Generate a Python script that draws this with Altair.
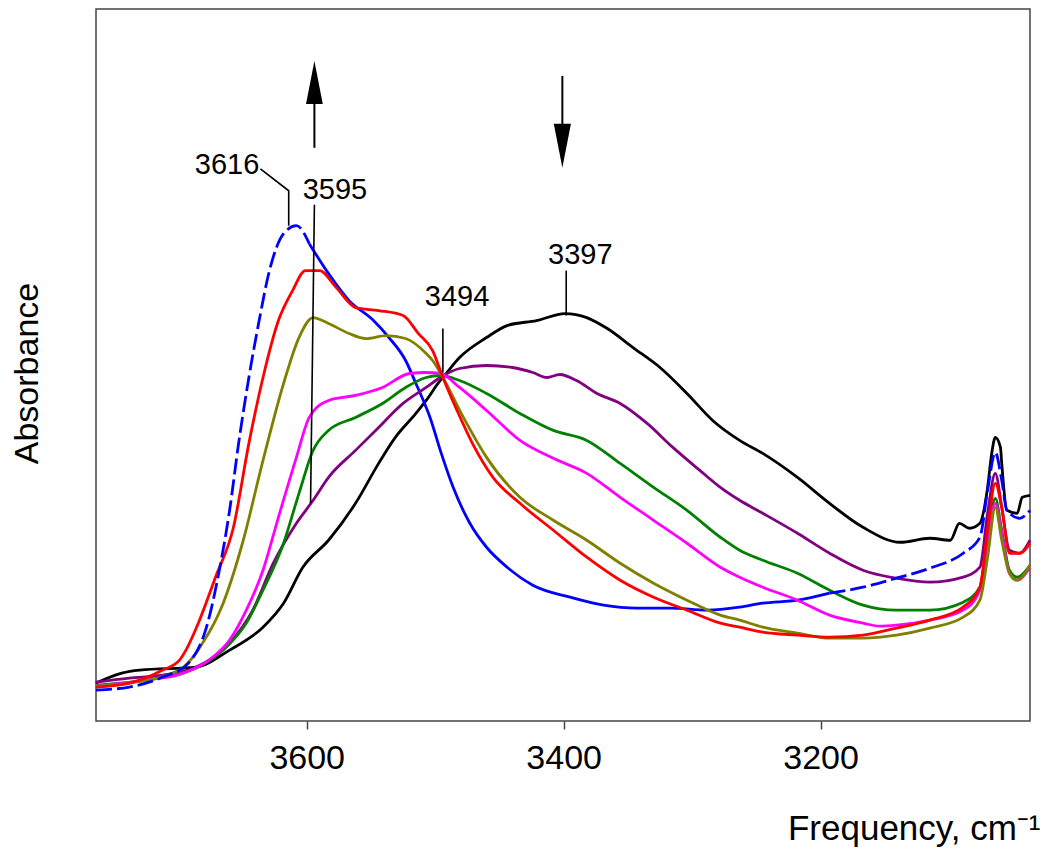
import altair as alt
import pandas as pd

FONT = "Liberation Sans, Arial, Helvetica, sans-serif"

# ---------------- spectra (frequency cm-1, absorbance a.u.) ----------------
black_f = [3764, 3744, 3730, 3686, 3660, 3634, 3618, 3603, 3583, 3562, 3544, 3531, 3515, 3507, 3496,
           3494, 3481, 3460, 3444, 3421, 3399, 3382, 3366, 3346, 3325, 3304, 3284, 3263, 3245, 3218,
           3193, 3167, 3138, 3115, 3099, 3092, 3084, 3076, 3070, 3067, 3064, 3060, 3059, 3055, 3047,
           3043, 3037]
black_a = [0.038, 0.048, 0.051, 0.054, 0.071, 0.094, 0.118, 0.154, 0.181, 0.218, 0.258, 0.284, 0.308,
           0.321, 0.341, 0.344, 0.364, 0.384, 0.396, 0.401, 0.408, 0.404, 0.393, 0.374, 0.354, 0.328,
           0.301, 0.281, 0.268, 0.244, 0.218, 0.194, 0.179, 0.183, 0.181, 0.198, 0.193, 0.198, 0.234,
           0.266, 0.284, 0.274, 0.258, 0.211, 0.208, 0.224, 0.226]

blue_f = [3764, 3738, 3712, 3692, 3678, 3668, 3660, 3653, 3645, 3637, 3629, 3618, 3608, 3598, 3583,
          3567, 3548, 3536, 3523, 3515, 3507, 3504, 3496, 3486, 3473, 3460, 3444, 3424, 3395, 3369,
          3343, 3317, 3288, 3263, 3245, 3218, 3193, 3167, 3141, 3115, 3089, 3076, 3070, 3064, 3059,
          3055, 3045, 3037]
blue_a = [0.031, 0.034, 0.044, 0.058, 0.094, 0.151, 0.211, 0.278, 0.344, 0.401, 0.451, 0.488, 0.496,
          0.478, 0.448, 0.421, 0.401, 0.384, 0.361, 0.338, 0.314, 0.304, 0.271, 0.234, 0.198, 0.174,
          0.154, 0.136, 0.124, 0.116, 0.113, 0.113, 0.111, 0.114, 0.118, 0.121, 0.128, 0.134, 0.143,
          0.153, 0.168, 0.184, 0.231, 0.269, 0.241, 0.211, 0.203, 0.211]

purple_f = [3764, 3738, 3712, 3686, 3660, 3642, 3626, 3608, 3595, 3583, 3562, 3544, 3525, 3507, 3496,
            3481, 3460, 3440, 3424, 3413, 3403, 3390, 3374, 3356, 3335, 3315, 3294, 3278, 3263, 3245,
            3218, 3193, 3167, 3141, 3115, 3089, 3076, 3070, 3064, 3059, 3053, 3045, 3037]
purple_a = [0.039, 0.043, 0.046, 0.054, 0.078, 0.111, 0.158, 0.198, 0.221, 0.244, 0.271, 0.294, 0.318,
            0.334, 0.344, 0.353, 0.356, 0.354, 0.349, 0.344, 0.347, 0.341, 0.328, 0.318, 0.298, 0.274,
            0.251, 0.234, 0.221, 0.208, 0.188, 0.168, 0.151, 0.143, 0.139, 0.144, 0.154, 0.208, 0.248,
            0.214, 0.171, 0.168, 0.181]

green_f = [3764, 3712, 3686, 3665, 3647, 3634, 3618, 3606, 3595, 3583, 3562, 3541, 3523, 3507, 3496,
           3481, 3460, 3434, 3408, 3382, 3356, 3330, 3304, 3278, 3263, 3245, 3218, 3193, 3167, 3141,
           3115, 3089, 3076, 3070, 3064, 3059, 3053, 3047, 3037]
green_a = [0.036, 0.044, 0.053, 0.071, 0.098, 0.131, 0.178, 0.228, 0.271, 0.291, 0.304, 0.318, 0.334,
           0.344, 0.346, 0.341, 0.328, 0.308, 0.291, 0.281, 0.258, 0.234, 0.211, 0.184, 0.171, 0.161,
           0.148, 0.131, 0.116, 0.111, 0.111, 0.119, 0.134, 0.184, 0.223, 0.191, 0.151, 0.144, 0.156]

magenta_f = [3764, 3725, 3696, 3676, 3660, 3647, 3634, 3622, 3608, 3598, 3583, 3562, 3541, 3520, 3507,
             3496, 3481, 3460, 3434, 3408, 3382, 3356, 3330, 3304, 3278, 3263, 3245, 3218, 3193, 3167,
             3154, 3141, 3115, 3089, 3076, 3070, 3064, 3059, 3053, 3047, 3037]
magenta_a = [0.035, 0.041, 0.048, 0.061, 0.081, 0.111, 0.151, 0.204, 0.264, 0.304, 0.321, 0.326, 0.334,
             0.348, 0.349, 0.348, 0.334, 0.311, 0.281, 0.263, 0.248, 0.224, 0.201, 0.178, 0.154, 0.144,
             0.134, 0.121, 0.106, 0.098, 0.095, 0.096, 0.101, 0.111, 0.131, 0.181, 0.218, 0.188, 0.148,
             0.141, 0.154]

olive_f = [3764, 3738, 3699, 3681, 3665, 3650, 3634, 3618, 3606, 3595, 3583, 3567, 3554, 3538, 3523,
           3507, 3502, 3494, 3478, 3460, 3434, 3408, 3382, 3356, 3330, 3304, 3278, 3263, 3245, 3218,
           3193, 3167, 3141, 3115, 3089, 3076, 3070, 3064, 3059, 3053, 3047, 3037]
olive_a = [0.035, 0.038, 0.051, 0.078, 0.118, 0.178, 0.261, 0.338, 0.384, 0.404, 0.398, 0.388, 0.383,
           0.386, 0.383, 0.368, 0.361, 0.344, 0.304, 0.264, 0.224, 0.201, 0.181, 0.158, 0.138, 0.121,
           0.106, 0.101, 0.094, 0.088, 0.083, 0.083, 0.086, 0.093, 0.104, 0.121, 0.164, 0.214, 0.181,
           0.148, 0.141, 0.156]

red_f = [3764, 3738, 3712, 3699, 3694, 3686, 3671, 3657, 3645, 3634, 3622, 3611, 3601, 3590, 3577,
         3562, 3544, 3525, 3513, 3502, 3494, 3483, 3471, 3455, 3434, 3408, 3382, 3356, 3330, 3304,
         3278, 3263, 3245, 3218, 3193, 3167, 3141, 3115, 3089, 3076, 3070, 3064, 3059, 3053, 3045,
         3037]
red_a = [0.034, 0.038, 0.051, 0.061, 0.071, 0.093, 0.144, 0.194, 0.278, 0.344, 0.401, 0.431, 0.451,
         0.451, 0.434, 0.414, 0.411, 0.406, 0.388, 0.371, 0.344, 0.311, 0.278, 0.244, 0.218, 0.191,
         0.164, 0.141, 0.124, 0.111, 0.098, 0.094, 0.089, 0.086, 0.084, 0.086, 0.093, 0.101, 0.114,
         0.134, 0.191, 0.238, 0.214, 0.168, 0.168, 0.178]

series_names = ["black", "blue", "purple", "green", "magenta", "olive", "red"]
series_colors = ["#000000", "#0000ff", "#800080", "#008000", "#ff00ff", "#808000", "#ff0000"]

# blue trace drawn dashed outside this frequency window
blue_solid_hi = 3598
blue_solid_lo = 3193

# ---------------- annotations ----------------
peak_labels = ["3616", "3595", "3494", "3397"]
peak_label_f = [3662, 3578, 3483, 3387]
peak_label_a = [0.548, 0.523, 0.416, 0.458]

leader_id = ["3616", "3616", "3616", "3595", "3595", "3494", "3494", "3397", "3397"]
leader_f = [3636, 3614, 3614, 3594, 3597, 3494, 3494, 3398, 3398]
leader_a = [0.553, 0.531, 0.496, 0.517, 0.218, 0.393, 0.349, 0.451, 0.406]

arrow_dir = ["up", "down"]
arrow_f = [3594, 3401]
arrow_tail = [0.574, 0.646]
arrow_neck = [0.630, 0.590]
arrow_head_center = [0.6395, 0.576]

# ---------------- build tables ----------------
curves = {
    "black": (black_f, black_a), "blue": (blue_f, blue_a), "purple": (purple_f, purple_a),
    "green": (green_f, green_a), "magenta": (magenta_f, magenta_a), "olive": (olive_f, olive_a),
    "red": (red_f, red_a),
}
rows_solid, rows_dash = [], []
for name in series_names:
    fs, as_ = curves[name]
    for f, a in zip(fs, as_):
        if name == "blue":
            if f >= blue_solid_hi:
                rows_dash.append({"series": name, "seg": "blue_left", "f": f, "A": a})
            if f <= blue_solid_lo:
                rows_dash.append({"series": name, "seg": "blue_right", "f": f, "A": a})
            if blue_solid_lo <= f <= blue_solid_hi:
                rows_solid.append({"series": name, "seg": "blue_mid", "f": f, "A": a})
        else:
            rows_solid.append({"series": name, "seg": name, "f": f, "A": a})
df_solid = pd.DataFrame(rows_solid)
df_dash = pd.DataFrame(rows_dash)

df_labels = pd.DataFrame({"label": peak_labels, "f": peak_label_f, "A": peak_label_a})
df_leaders = pd.DataFrame({"id": leader_id, "f": leader_f, "A": leader_a,
                           "k": list(range(len(leader_id)))})
df_arrows = pd.DataFrame({"dir": arrow_dir, "f": arrow_f, "A": arrow_tail, "A2": arrow_neck,
                          "Ah": arrow_head_center})

# ---------------- encodings ----------------
xs = alt.Scale(domain=[3037, 3764], reverse=True, nice=False, zero=False)
ys = alt.Scale(domain=[0.0, 0.713], nice=False, zero=False)
xaxis = alt.Axis(values=[3600, 3400, 3200], format="d", title="Frequency, cm\u207b\u00b9", grid=False,
                 domain=False, ticks=True, tickSize=8, tickWidth=1.5, tickColor="#444444",
                 labelFont=FONT, labelFontSize=34, labelColor="#000000", labelPadding=12,
                 titleFont=FONT, titleFontSize=35, titleFontWeight="normal", titleColor="#000000",
                 titleX=944, titleY=118, titleAlign="right", titleBaseline="alphabetic")
yaxis = alt.Axis(title="Absorbance", labels=False, ticks=False, domain=False, grid=False,
                 titleFont=FONT, titleFontSize=34, titleFontWeight="normal", titleColor="#000000",
                 titleAngle=270, titleX=-59, titleY=364, titleAlign="center",
                 titleBaseline="alphabetic")
X = alt.X("f:Q", scale=xs, axis=xaxis)
Y = alt.Y("A:Q", scale=ys, axis=yaxis)
color = alt.Color("series:N", scale=alt.Scale(domain=series_names, range=series_colors), legend=None)

solid = alt.Chart(df_solid).mark_line(strokeWidth=2.8, strokeJoin="round",
                                      interpolate="monotone").encode(
    x=X, y=Y, color=color, detail="seg:N")
dashed = alt.Chart(df_dash).mark_line(strokeWidth=2.8, strokeDash=[16, 5],
                                      interpolate="monotone").encode(
    x=X, y=Y, color=color, detail="seg:N")

leaders = alt.Chart(df_leaders).mark_line(color="#000000", strokeWidth=1.6).encode(
    x=X, y=Y, detail="id:N", order="k:Q")
labels = alt.Chart(df_labels).mark_text(font=FONT, fontSize=29, align="center",
                                         baseline="alphabetic", color="#000000").encode(
    x=X, y=Y, text="label:N")

shafts = alt.Chart(df_arrows).mark_rule(color="#000000", strokeWidth=2).encode(
    x=X, y=Y, y2="A2:Q")
head_up = alt.Chart(df_arrows[df_arrows["dir"] == "up"]).mark_point(
    shape="M0,-1L0.39,1L-0.39,1Z", filled=True, color="#000000", opacity=1, size=1849).encode(
    x=X, y=alt.Y("Ah:Q", scale=ys, axis=yaxis))
head_down = alt.Chart(df_arrows[df_arrows["dir"] == "down"]).mark_point(
    shape="M0,1L0.39,-1L-0.39,-1Z", filled=True, color="#000000", opacity=1, size=1936).encode(
    x=X, y=alt.Y("Ah:Q", scale=ys, axis=yaxis))

chart = alt.layer(solid, dashed, leaders, labels, shafts, head_up, head_down).properties(
    width=934, height=712,
    padding={"left": 88, "top": 1, "right": 10, "bottom": 127},
    autosize=alt.AutoSizeParams(type="none"),
    background="white",
).configure_view(stroke="#444444", strokeWidth=1.5)

chart.save("out.html", embed_options={"renderer": "svg", "actions": False})
